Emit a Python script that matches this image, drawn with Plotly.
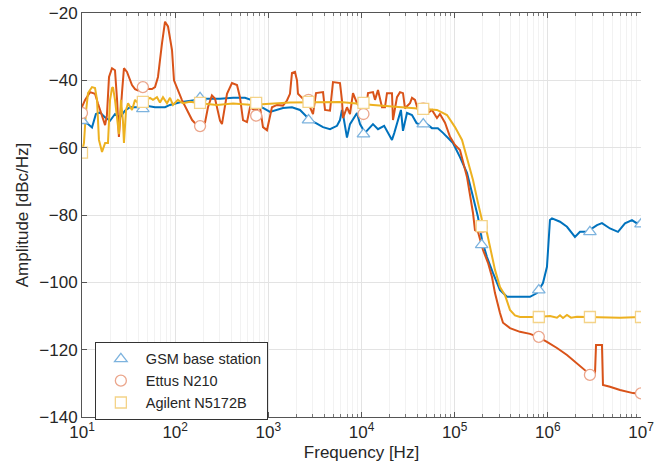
import plotly.graph_objects as go

# ---------------- data ----------------
gsm_f = [10, 11.6, 12.8, 14.1, 15.6, 17.7, 20.0, 22.6, 25.6, 28.9, 32.7, 41.9, 47.5, 60.8,
         77.8, 88, 113, 163, 209, 303, 418, 562, 684, 719, 876, 1042, 1239, 1436, 1794,
         2187, 2475, 2801, 3248, 3862, 4592, 5458, 5876, 6176, 6326, 6984, 7524, 8946,
         9635, 10900, 13280, 15030, 17500, 21240, 22500, 24640, 26500, 27880, 30780,
         34830, 39000, 45710, 50420, 57080, 66000, 74950, 82740, 95900, 114000, 135600,
         157300, 177900, 196400, 222200, 257600, 306500, 364400, 500000, 643400, 764800,
         887000, 979000, 1054000, 1108000, 1350000, 1605000, 1955000, 2213000, 2631000,
         3371000, 3811000, 4645000, 5663000, 6732000, 8000000, 9058000, 10000000]
gsm_db = [-52, -53, -54, -50, -49.5, -51, -52, -50, -51, -49, -48, -48, -47.5, -48,
          -48, -47.3, -46.5, -46, -45.5, -45.5, -45.2, -45.2, -46, -47.3, -48.2, -49.4,
          -48.8, -48.2, -48, -48.8, -50.3, -51.8, -52.7, -53.9, -54.5, -53.5, -51.8,
          -48.8, -50, -57, -53, -49.7, -53, -55.6, -53, -54.5, -53.5, -57.7, -55.6, -52,
          -48.8, -55, -49.7, -50.3, -52.7, -53.5, -53, -54.2, -54.2, -55.6, -56.8, -58.6,
          -62.8, -67.5, -74.6, -80.6, -87.4, -92.5, -97.2, -102.3, -104.3, -104.3,
          -104.3, -103.2, -100.2, -95.4, -81.5, -81, -82, -83.5, -86.5, -85, -85, -83,
          -82.4, -84, -85, -82.5, -81.5, -82.5, -81.5]

ettus_f = [10, 10.8, 12.2, 13.8, 14.8, 16.4, 17.7, 18.5, 19.5, 21.0, 22.6, 23.8, 24.9,
           26.9, 28.2, 30.4, 34.4, 37.1, 39.9, 44.0, 49.9, 56.4, 60.8, 65.4, 72.2, 77.8,
           83.8, 92.5, 97.1, 107, 118, 134, 152, 171, 185, 209, 225, 248, 268, 303, 318,
           360, 407, 461, 496, 535, 590, 636, 719, 814, 876, 967, 1094, 1239, 1436, 1585,
           1707, 1794, 1932, 2031, 2081, 2355, 2475, 2801, 3016, 3248, 3862, 4058, 4592,
           4945, 5876, 6176, 6326, 6984, 7524, 8104, 8946, 9635, 10900, 11740, 13280,
           13960, 15030, 16600, 17860, 18770, 21240, 21770, 24040, 25890, 27880, 29300,
           33150, 34830, 37500, 40400, 45710, 51720, 57080, 64570, 69500, 78750, 89100,
           100800, 114000, 135600, 146100, 157300, 165200, 177900, 201400, 227900,
           251600, 270900, 306500, 330100, 392500, 502300, 643400, 783400, 979000,
           1253000, 1605000, 2055000, 2631000, 3208000, 3290000, 3811000, 3907000,
           4645000, 5950000, 8204000, 10000000]
ettus_db = [-47.9, -45.8, -43.5, -44, -46.8, -50.3, -53.3, -50.5, -39, -36.4, -37, -45.8,
            -56.8, -43.5, -36.4, -37.5, -41.4, -42.6, -43, -42.5, -42.5, -42.6, -42, -39,
            -29, -22.6, -24, -31, -40, -43, -45.8, -48.8, -51.8, -53.3, -53.5, -52.6, -48,
            -44.5, -45.5, -52, -53, -44, -40.8, -41.4, -45, -51.8, -52.4, -48, -49, -48,
            -53.9, -54.8, -48, -47.3, -47.5, -46, -44, -37.8, -37.5, -40, -44, -45.5,
            -46.5, -48, -50, -43.8, -43.5, -48.8, -49, -40.5, -40.8, -46, -51.2, -48, -50,
            -43.8, -46.8, -48, -51.2, -43.8, -43.5, -45.8, -42.9, -48, -48, -43.8, -43.8,
            -51.8, -45, -43.5, -43.8, -48.3, -46.8, -45.2, -45.8, -48.8, -48, -49.7,
            -48.8, -51.2, -50, -52.6, -56.8, -59.2, -60.7, -68.7, -73.5, -79.4, -84.5,
            -85, -90.4, -94.2, -98.4, -103.2, -109.1, -112, -113.6, -114.7, -115.3,
            -116.2, -117.7, -119.5, -121.6, -124, -126.6, -127, -118.6, -118.6, -130.5,
            -131, -132, -132.9, -133.2]

agilent_f = [10, 10.5, 11.0, 11.6, 12.8, 13.8, 14.5, 15.2, 16.4, 17.7, 19.0, 20.0, 21.0,
             21.5, 22.6, 23.8, 24.9, 26.2, 27.5, 28.2, 29.7, 31.2, 34.4, 37.1, 39.9, 45.2,
             53.7, 57.8, 63.8, 68.7, 74, 81.7, 88, 94.8, 107, 121, 144, 185, 281, 418, 684,
             1707, 5876, 13280, 30780, 45710, 64570, 82740, 100800, 119900, 135600,
             157300, 177900, 196400, 222200, 251600, 270900, 306500, 346800, 392500,
             443800, 502300, 783400, 1054000, 1253000, 1350000, 1454000, 1605000,
             1772000, 2055000, 2835000, 5950000, 10000000]
agilent_db = [-61.3, -58.6, -49.7, -43.8, -42, -42.3, -45.8, -57.7, -61.3, -58.6, -58.6,
              -45.8, -42.3, -42, -45.8, -52, -56, -45.8, -52, -58.6, -48.8, -46.8, -48.8,
              -45.8, -46.8, -46.4, -45.2, -45.8, -45, -46.6, -45, -46.8, -45.2, -47.3,
              -45.8, -46.8, -46.4, -46.8, -47.3, -46.9, -47.3, -46.6, -46.4, -47.3, -48,
              -48.3, -48.8, -50.3, -53.9, -57.7, -62.8, -69.6, -76.4, -81.5, -85.3, -92.5,
              -96.3, -101.4, -103.8, -108.2, -109.8, -110.3, -110.3, -110, -110.5, -109.8,
              -110.6, -109.7, -110.5, -110.2, -110.3, -110.5, -110.3]

marker_f = [10, 45, 185, 740, 2700, 10500, 46000, 195000, 800000, 2830000, 10000000]
gsm_marker_db = [-52, -48.5, -45.2, -47, -51.8, -56, -53, -88.9, -102.3, -85, -82.7]
ettus_marker_db = [-49.7, -42, -53.6, -50.5, -45.8, -50, -48.3, -83.6, -116.2, -127.5, -133]
agilent_marker_db = [-61.5, -46.4, -46.7, -46.7, -46.4, -46.7, -48.5, -83.3, -110.3, -110.3, -110.3]

names = ["GSM base station", "Ettus N210", "Agilent N5172B"]
line_colors = ["#0072BD", "#D95319", "#EDB120"]
marker_colors = ["#7DB3DE", "#EBA68C", "#F4D388"]
symbols = ["triangle-up", "circle", "square"]

x_tickvals = [10, 100, 1000, 10000, 100000, 1000000, 10000000]
x_ticktext = ["10<sup>1</sup>", "10<sup>2</sup>", "10<sup>3</sup>", "10<sup>4</sup>",
              "10<sup>5</sup>", "10<sup>6</sup>", "10<sup>7</sup>"]
y_tickvals = [-140, -120, -100, -80, -60, -40, -20]

# ---------------- figure ----------------
fig = go.Figure()
series = [(gsm_f, gsm_db), (ettus_f, ettus_db), (agilent_f, agilent_db)]
for (f, db), c in zip(series, line_colors):
    fig.add_trace(go.Scatter(x=f, y=db, mode="lines", line=dict(color=c, width=2),
                             showlegend=False, hoverinfo="skip"))

marker_sets = [gsm_marker_db, ettus_marker_db, agilent_marker_db]
for name, mdb, mc, sym in zip(names, marker_sets, marker_colors, symbols):
    fig.add_trace(go.Scatter(x=marker_f, y=mdb, mode="markers", name=name,
                             marker=dict(symbol=sym, size=11, color="white",
                                         line=dict(color=mc, width=1.3))))

minor_vals = []
for d in x_tickvals[:-1]:
    minor_vals += [d * k for k in range(2, 10)]

axis_font = dict(family="Liberation Sans, Arial, sans-serif", size=17, color="#262626")

fig.update_xaxes(type="log", range=[1, 7], tickmode="array", tickvals=x_tickvals,
                 ticktext=x_ticktext, ticks="inside", ticklen=5, tickcolor="#555555",
                 showline=True, linecolor="#555555", linewidth=1, mirror="ticks",
                 showgrid=True, gridcolor="#E3E3E3", gridwidth=1, zeroline=False,
                 tickfont=axis_font, automargin=False, ticklabeloverflow="allow",
                 minor=dict(tickmode="array", tickvals=minor_vals, ticks="inside",
                            ticklen=3, tickcolor="#777777", showgrid=True,
                            gridcolor="#F2F2F2", gridwidth=1),
                 title=dict(text="Frequency [Hz]", font=axis_font, standoff=4))
fig.update_yaxes(range=[-140, -20], tickmode="array", tickvals=y_tickvals,
                 ticks="inside", ticklen=5, tickcolor="#555555",
                 showline=True, linecolor="#555555", linewidth=1,
                 showgrid=True, gridcolor="#E3E3E3", gridwidth=1, zeroline=False,
                 tickfont=axis_font, automargin=False, ticklabeloverflow="allow",
                 title=dict(text="Amplitude [dBc/Hz]", font=axis_font, standoff=6))

fig.update_layout(
    width=655, height=471,
    margin=dict(l=82, r=14, t=13, b=54),
    paper_bgcolor="white", plot_bgcolor="white",
    font=dict(family="Liberation Sans, Arial, sans-serif", color="#262626"),
    legend=dict(x=0.023, y=0.186, xanchor="left", yanchor="top",
                bgcolor="white", bordercolor="#333333", borderwidth=1,
                font=dict(family="Liberation Sans, Arial, sans-serif", size=14.5,
                          color="#262626"),
                tracegroupgap=0, itemwidth=40),
)

fig.write_html("out.html",
               config={"displayModeBar": False},
               post_script="document.body.style.margin='0';document.body.style.overflow='hidden';")
